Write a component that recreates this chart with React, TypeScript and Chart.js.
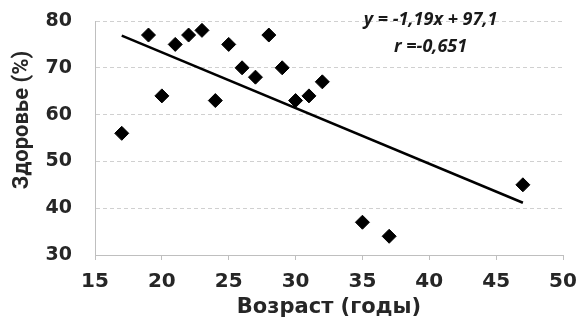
import React, { useEffect, useRef } from "react";
import { Chart, registerables } from "chart.js";

Chart.register(...registerables);

const ages = [17, 19, 20, 21, 22, 23, 24, 25, 26, 27, 28, 29, 30, 31, 32, 35, 37, 47];
const health = [56, 77, 64, 75, 77, 78, 63, 75, 70, 68, 77, 70, 63, 64, 67, 37, 34, 45];
const trendX = [17, 47];
const slope = -1.19;
const intercept = 97.1;
const equationText = "y = -1,19x + 97,1";
const rText = "r =-0,651";
const xTitle = "Возраст (годы)";
const yTitle = "Здоровье (%)";

const WIDE = "'DejaVu Sans', sans-serif";
const NARROW = "Roboto, 'Open Sans', sans-serif";
const ITAL = "'Open Sans', 'DejaVu Sans', sans-serif";
const TEXT = "#262626";

export default function App() {
  const ref = useRef<HTMLCanvasElement | null>(null);
  useEffect(() => {
    if (!ref.current) return;
    const annot = {
      id: "annot",
      afterDraw(chart: any) {
        const ctx = chart.ctx;
        const xs = chart.scales.x;
        ctx.save();
        ctx.fillStyle = "#1a1a1a";
        ctx.font = `italic bold 18px ${ITAL}`;
        ctx.textAlign = "center";
        ctx.textBaseline = "middle";
        const cx = xs.getPixelForValue(40.1);
        ctx.fillText(equationText, cx, 20);
        ctx.fillText(rText, cx, 47);
        // axis titles
        ctx.fillStyle = TEXT;
        ctx.font = `bold 21px ${WIDE}`;
        ctx.fillText(xTitle, 329, 308);
        ctx.translate(22, 120);
        ctx.rotate(-Math.PI / 2);
        ctx.font = `bold 22px ${NARROW}`;
        ctx.fillText(yTitle, 0, 0);
        ctx.restore();
      },
    };
    const chart = new Chart(ref.current, {
      type: "scatter",
      data: {
        datasets: [
          {
            type: "line",
            data: trendX.map((x) => ({ x, y: slope * x + intercept })),
            borderColor: "#000",
            borderWidth: 2.5,
            pointRadius: 0,
            fill: false,
            order: 2,
          } as any,
          {
            data: ages.map((a, i) => ({ x: a, y: health[i] })),
            pointStyle: "rectRot",
            pointRadius: 7,
            backgroundColor: "#000",
            borderColor: "#000",
            order: 1,
          },
        ],
      },
      plugins: [annot],
      options: {
        animation: false,
        responsive: false,
        layout: { padding: { top: 21, right: 14, left: 0, bottom: 0 } },
        plugins: { legend: { display: false }, tooltip: { enabled: false } },
        scales: {
          x: {
            type: "linear",
            min: 15,
            max: 50,
            ticks: { stepSize: 5, color: TEXT, font: { family: WIDE, size: 20, weight: "bold" }, padding: 10 },
            grid: { drawOnChartArea: false, drawTicks: true, tickLength: 5, color: "#bfbfbf" },
            border: { display: true, color: "#bfbfbf", width: 1 },
            afterFit: (s: any) => { s.height = 323 - 255; s.paddingLeft = 0; s.paddingRight = 0; },
          },
          y: {
            min: 30,
            max: 80,
            ticks: { stepSize: 10, color: TEXT, font: { family: WIDE, size: 19, weight: "bold" }, padding: 23 },
            grid: { color: "#d0d0d0", drawTicks: false },
            border: { display: true, color: "#bfbfbf", width: 1, dash: [4, 3] },
            afterFit: (s: any) => { s.width = 95; s.paddingTop = 0; s.paddingBottom = 0; },
          },
        },
      } as any,
    });
    return () => chart.destroy();
  }, []);
  return (
    <div style={{ position: "fixed", left: 0, top: 0, width: 577, height: 323, background: "#fff" }}>
      <canvas ref={ref} width={577} height={323} style={{ width: 577, height: 323 }} />
    </div>
  );
}
